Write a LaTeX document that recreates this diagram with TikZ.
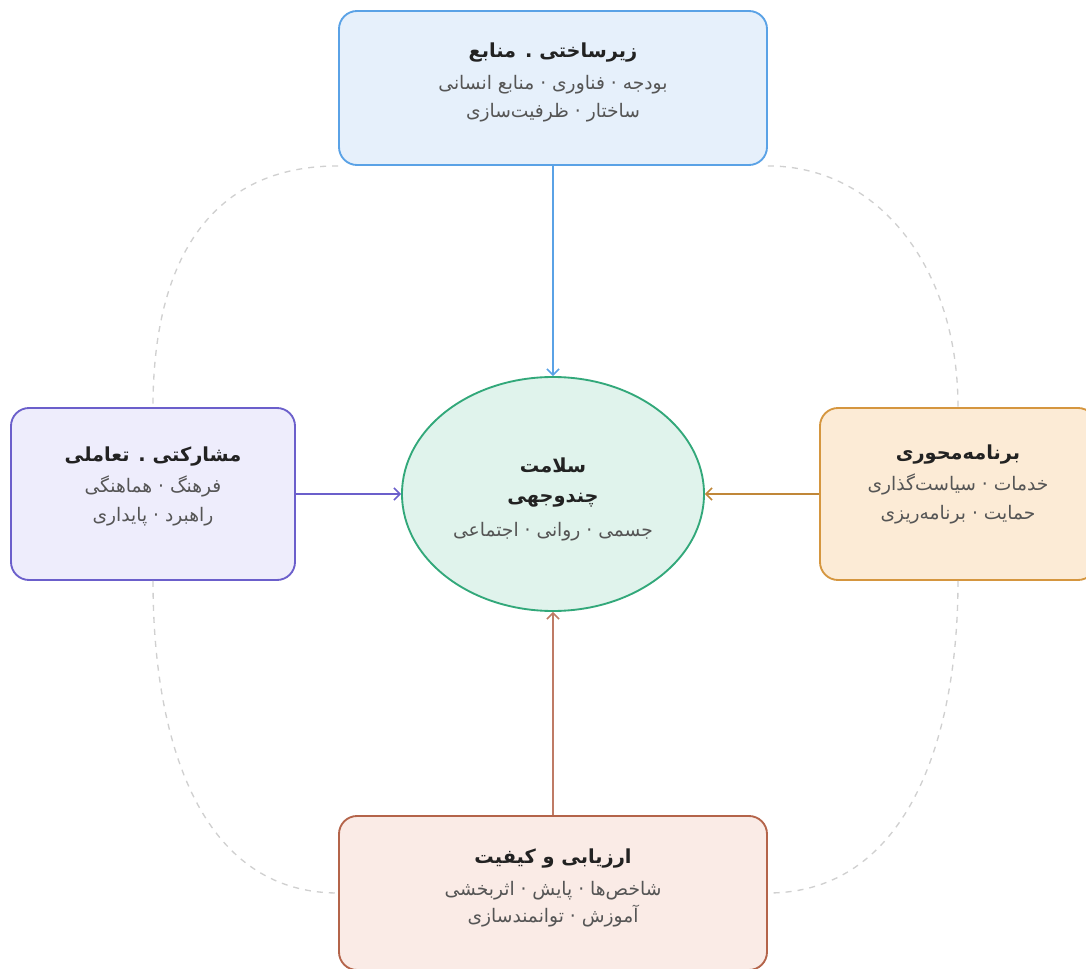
\documentclass[tikz,border=0pt]{standalone}
\usepackage{fontspec}
\usetikzlibrary{shapes.geometric,arrows.meta}
\TeXXeTstate=1
\newfontfamily\arfont[Script=Arabic]{DejaVu Sans}
\definecolor{titlec}{HTML}{222222}
\definecolor{subc}{HTML}{555555}
\definecolor{dashc}{HTML}{D0D0D0}
\definecolor{topfill}{HTML}{E6F0FB}
\definecolor{topdraw}{HTML}{5AA2E6}
\definecolor{leftfill}{HTML}{EEEDFC}
\definecolor{leftdraw}{HTML}{6B5FCB}
\definecolor{rightfill}{HTML}{FCEBD6}
\definecolor{rightdraw}{HTML}{D5963F}
\definecolor{botfill}{HTML}{FAEBE6}
\definecolor{botdraw}{HTML}{B4644A}
\definecolor{ellfill}{HTML}{E0F3EC}
\definecolor{elldraw}{HTML}{32A87A}
\newcommand\ttl[1]{{\bfseries\fontsize{14.5}{20}\selectfont\color{titlec}\beginR #1\endR}}
\newcommand\sbt[1]{{\color{subc}\beginR #1\endR}}
\begin{document}
\begin{tikzpicture}[x=0.75pt,y=-0.75pt,
  boxstyle/.style={rectangle, rounded corners=13.5pt, line width=1.4pt, inner sep=0pt},
  ellstyle/.style={ellipse, line width=1.4pt, inner sep=0pt,
    minimum width=226.5pt, minimum height=175.5pt},
  txt/.style={align=center, inner sep=0pt, font=\arfont\fontsize{14}{20.5}\selectfont},
  arr/.style={line width=1.2pt, -{Straight Barb[length=4.5pt,width=9pt]}},
  dashcurve/.style={dashc, line width=1pt, dash pattern=on 4.5pt off 4.5pt}
]
\useasboundingbox (0,0) rectangle (1086,969);

\node[boxstyle, fill=topfill, draw=topdraw, minimum width=321pt, minimum height=115.5pt] (top) at (553,88) {};
\node[boxstyle, fill=leftfill, draw=leftdraw, minimum width=213pt, minimum height=129pt] (left) at (153,494) {};
\node[boxstyle, fill=rightfill, draw=rightdraw, minimum width=207pt, minimum height=129pt] (right) at (958,494) {};
\node[boxstyle, fill=botfill, draw=botdraw, minimum width=321pt, minimum height=115.5pt] (bottom) at (553,893) {};
\node[ellstyle, fill=ellfill, draw=elldraw] (ell) at (553,494) {};

\node[txt] (toptext) at (553,82)
  {\ttl{زیرساختی . منابع}\\[4pt]\sbt{بودجه · فناوری · منابع انسانی}\\\sbt{ساختار · ظرفیت‌سازی}};
\node[txt] (lefttext) at (153,486)
  {\ttl{مشارکتی . تعاملی}\\[3pt]\sbt{فرهنگ · هماهنگی}\\[1pt]\sbt{راهبرد · پایداری}};
\node[txt] (righttext) at (958,484)
  {\ttl{برنامه‌محوری}\\[3pt]\sbt{خدمات · سیاست‌گذاری}\\[1pt]\sbt{حمایت · برنامه‌ریزی}};
\node[txt] (bottext) at (553,888)
  {\ttl{ارزیابی و کیفیت}\\[3pt]\sbt{شاخص‌ها · پایش · اثربخشی}\\\sbt{آموزش · توانمندسازی}};
\node[txt] (elltext) at (553,499)
  {\ttl{سلامت}\\[2pt]\ttl{چندوجهی}\\[5pt]\sbt{جسمی · روانی · اجتماعی}};

\draw[dashcurve] (top.south west) .. controls +(-125,0) and +(0,-150) .. (left.north);
\draw[dashcurve] (top.south east) .. controls +(110,0) and +(0,-140) .. (right.north);
\draw[dashcurve] (left.south) .. controls +(0,160) and +(-138,0) .. (bottom.west);
\draw[dashcurve] (right.south) .. controls +(0,160) and +(138,0) .. (bottom.east);

\draw[arr, topdraw] (top) -- (ell);
\draw[arr, leftdraw] (left) -- (ell);
\draw[arr, rightdraw!90!black] (right) -- (ell);
\draw[arr, botdraw!85!white] (bottom) -- (ell);
\end{tikzpicture}
\end{document}
